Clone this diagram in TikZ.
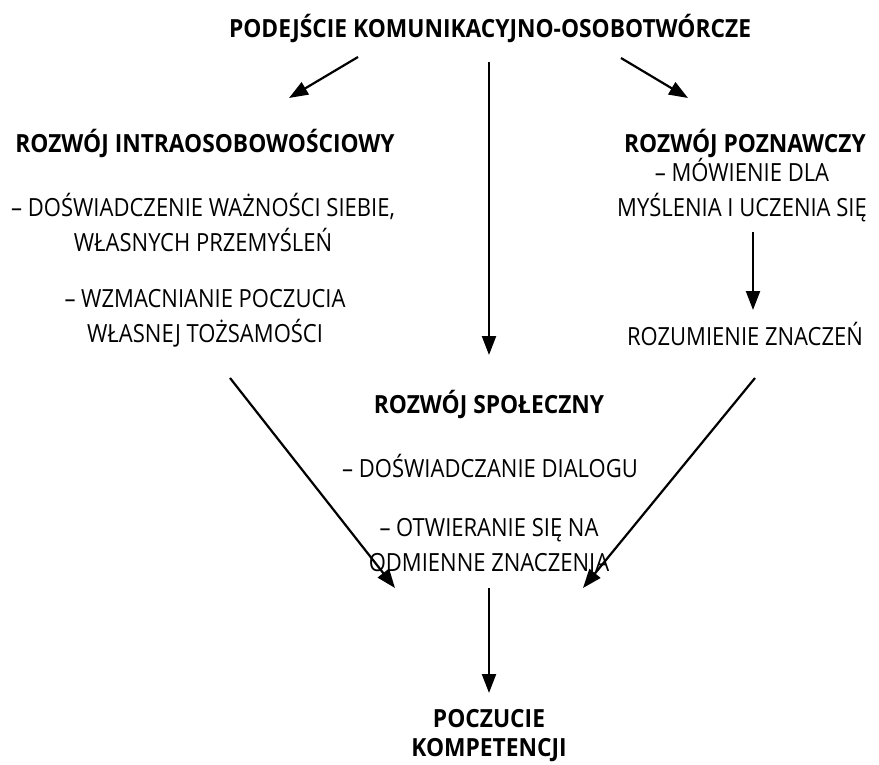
\documentclass[tikz,border=0pt]{standalone}
\usepackage{fontspec}
\setmainfont{Open Sans}[FakeStretch=0.88]
\newfontfamily\hdfont{Open Sans}[FakeStretch=0.91]
\usetikzlibrary{arrows.meta}
\begin{document}
\begin{tikzpicture}[x=1pt,y=-1pt,
  txt/.style={font=\fontsize{25}{35}\selectfont, align=center, inner sep=0pt, anchor=center},
  hd/.style={font=\hdfont\fontsize{25}{29}\selectfont\bfseries, align=center, inner sep=0pt, anchor=center},
  arr/.style={line width=2.2pt, -{Triangle[length=19pt,width=14pt]}}]
\useasboundingbox (0,0) rectangle (879,764);
\node[hd] (title) at (490,28) {PODEJŚCIE KOMUNIKACYJNO-OSOBOTWÓRCZE};
\node[hd] (intra) at (205,143) {ROZWÓJ INTRAOSOBOWOŚCIOWY};
\node[txt] (intraA) at (203,222) {– DOŚWIADCZENIE WAŻNOŚCI SIEBIE,\\WŁASNYCH PRZEMYŚLEŃ};
\node[txt] (intraB) at (205,318) {– WZMACNIANIE POCZUCIA\\WŁASNEJ TOŻSAMOŚCI};
\node[hd] (pozn) at (745,143) {ROZWÓJ POZNAWCZY};
\node[txt] (poznA) at (742,190) {– MÓWIENIE DLA\\MYŚLENIA I UCZENIA SIĘ};
\node[txt] (rozum) at (745,334) {ROZUMIENIE ZNACZEŃ};
\node[hd] (spol) at (489,404) {ROZWÓJ SPOŁECZNY};
\node[txt] (spolA) at (490,466) {– DOŚWIADCZANIE DIALOGU};
\node[txt] (spolB) at (489,545) {– OTWIERANIE SIĘ NA\\ODMIENNE ZNACZENIA};
\node[hd] (komp) at (489,736) {POCZUCIE\\KOMPETENCJI};
\coordinate (t1) at (358,57); \coordinate (h1) at (289,98);
\coordinate (t2) at (489,62); \coordinate (h2) at (489,355);
\coordinate (t3) at (621,58); \coordinate (h3) at (688,98);
\coordinate (t4) at (753,232); \coordinate (h4) at (753,310);
\coordinate (t5) at (230,378); \coordinate (h5) at (395,588);
\coordinate (t6) at (755,378); \coordinate (h6) at (583,588);
\coordinate (t7) at (489,588); \coordinate (h7) at (489,693);
\draw[arr] (t1) -- (h1);
\draw[arr] (t2) -- (h2);
\draw[arr] (t3) -- (h3);
\draw[arr] (t4) -- (h4);
\draw[arr] (t5) -- (h5);
\draw[arr] (t6) -- (h6);
\draw[arr] (t7) -- (h7);
\end{tikzpicture}
\end{document}
